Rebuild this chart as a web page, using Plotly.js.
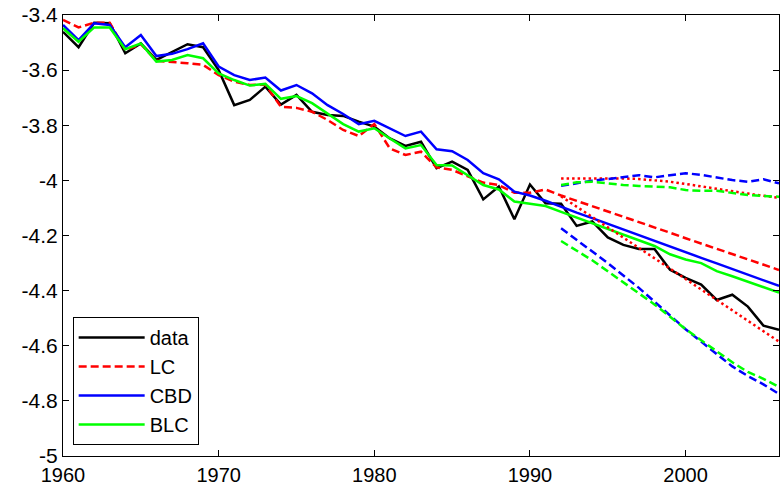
<!DOCTYPE html>
<html>
<head>
<meta charset="utf-8">
<script src="https://cdn.plot.ly/plotly-3.0.1.min.js"></script>
<style>html,body{margin:0;padding:0;background:#fff;}#chart{width:782px;height:486px;}</style>
</head>
<body>
<div id="chart"></div>
<script>
const years = [1960,1961,1962,1963,1964,1965,1966,1967,1968,1969,1970,1971,1972,1973,1974,1975,1976,1977,1978,1979,1980,1981,1982,1983,1984,1985,1986,1987,1988,1989,1990,1991,1992,1993,1994,1995,1996,1997,1998,1999,2000,2001,2002,2003,2004,2005,2006];
const dataVals = [-3.461,-3.517,-3.428,-3.430,-3.539,-3.503,-3.563,-3.535,-3.506,-3.517,-3.600,-3.727,-3.708,-3.660,-3.725,-3.690,-3.751,-3.763,-3.766,-3.787,-3.805,-3.848,-3.875,-3.860,-3.956,-3.932,-3.962,-4.069,-4.022,-4.141,-4.015,-4.083,-4.085,-4.165,-4.149,-4.207,-4.234,-4.249,-4.249,-4.324,-4.354,-4.378,-4.434,-4.415,-4.458,-4.527,-4.542];
const lcVals = [-3.418,-3.445,-3.428,-3.428,-3.527,-3.506,-3.566,-3.570,-3.575,-3.581,-3.618,-3.642,-3.654,-3.652,-3.733,-3.737,-3.751,-3.781,-3.817,-3.839,-3.796,-3.884,-3.908,-3.896,-3.953,-3.962,-3.984,-4.008,-4.017,-4.045,-4.045,-4.033,-4.055,-4.074,-4.094,-4.113,-4.133,-4.152,-4.171,-4.190,-4.210,-4.229,-4.248,-4.267,-4.287,-4.306,-4.325];
const cbdVals = [-3.436,-3.491,-3.430,-3.436,-3.517,-3.473,-3.549,-3.541,-3.524,-3.503,-3.587,-3.618,-3.636,-3.627,-3.674,-3.654,-3.684,-3.727,-3.759,-3.796,-3.784,-3.811,-3.839,-3.823,-3.887,-3.894,-3.926,-3.974,-3.996,-4.041,-4.055,-4.074,-4.096,-4.117,-4.137,-4.158,-4.178,-4.199,-4.219,-4.240,-4.260,-4.281,-4.301,-4.322,-4.342,-4.363,-4.383];
const blcVals = [-3.448,-3.497,-3.445,-3.445,-3.524,-3.503,-3.569,-3.563,-3.545,-3.557,-3.612,-3.636,-3.656,-3.650,-3.704,-3.694,-3.720,-3.759,-3.796,-3.823,-3.811,-3.848,-3.884,-3.872,-3.944,-3.946,-3.981,-4.017,-4.033,-4.077,-4.085,-4.093,-4.114,-4.135,-4.155,-4.176,-4.197,-4.218,-4.238,-4.268,-4.287,-4.300,-4.329,-4.348,-4.368,-4.388,-4.407];

const fcYears = [1992,1993,1994,1995,1996,1997,1998,1999,2000,2001,2002,2003,2004,2005,2006];
const lcUpper = [-3.993,-3.993,-3.992,-3.992,-3.993,-3.995,-3.999,-4.005,-4.013,-4.022,-4.032,-4.040,-4.048,-4.056,-4.063];
const lcLower = [-4.058,-4.095,-4.132,-4.170,-4.207,-4.245,-4.283,-4.320,-4.358,-4.396,-4.435,-4.473,-4.512,-4.549,-4.585];
const cbdUpper = [-4.020,-4.010,-4.001,-3.995,-3.987,-3.981,-3.989,-3.981,-3.974,-3.980,-3.989,-3.999,-4.005,-3.996,-4.011];
const cbdLower = [-4.174,-4.215,-4.258,-4.300,-4.345,-4.390,-4.440,-4.490,-4.540,-4.585,-4.630,-4.675,-4.710,-4.740,-4.775];
const blcUpper = [-4.017,-4.007,-4.005,-4.011,-4.017,-4.020,-4.023,-4.025,-4.035,-4.038,-4.038,-4.045,-4.053,-4.057,-4.059];
const blcLower = [-4.220,-4.255,-4.290,-4.330,-4.370,-4.410,-4.450,-4.495,-4.540,-4.580,-4.620,-4.660,-4.695,-4.720,-4.750];

const xTickVals = [1960,1970,1980,1990,2000];
const xTickLabels = ['1960','1970','1980','1990','2000'];
const yTickVals = [-5,-4.8,-4.6,-4.4,-4.2,-4,-3.8,-3.6,-3.4];
const yTickLabels = ['-5','-4.8','-4.6','-4.4','-4.2','-4','-3.8','-3.6','-3.4'];

const LW = 2.5;
const DASH = '8px,4px';
const DOT = '2.5px,3px';

const traces = [
  {x: years, y: dataVals, name: 'data', mode: 'lines', line: {color: '#000000', width: LW}},
  {x: years, y: lcVals, name: 'LC', mode: 'lines', line: {color: '#ff0000', width: LW, dash: DASH}},
  {x: years, y: cbdVals, name: 'CBD', mode: 'lines', line: {color: '#0000ff', width: LW}},
  {x: years, y: blcVals, name: 'BLC', mode: 'lines', line: {color: '#00ff00', width: LW}},
  {x: fcYears, y: lcUpper, mode: 'lines', showlegend: false, line: {color: '#ff0000', width: LW, dash: DOT}},
  {x: fcYears, y: lcLower, mode: 'lines', showlegend: false, line: {color: '#ff0000', width: LW, dash: DOT}},
  {x: fcYears, y: cbdUpper, mode: 'lines', showlegend: false, line: {color: '#0000ff', width: LW, dash: DASH}},
  {x: fcYears, y: cbdLower, mode: 'lines', showlegend: false, line: {color: '#0000ff', width: LW, dash: DASH}},
  {x: fcYears, y: blcUpper, mode: 'lines', showlegend: false, line: {color: '#00ff00', width: LW, dash: DASH}},
  {x: fcYears, y: blcLower, mode: 'lines', showlegend: false, line: {color: '#00ff00', width: LW, dash: DASH}}
];

const axisCommon = {
  showgrid: false, zeroline: false, showline: true, linecolor: '#000000', linewidth: 1,
  ticks: 'inside', ticklen: 6, tickwidth: 1, tickcolor: '#000000', mirror: 'ticks',
  tickfont: {family: 'Liberation Sans, Arial, sans-serif', size: 21, color: '#000000'}
};

const layout = {
  width: 782, height: 486,
  margin: {l: 63, r: 3, t: 15, b: 30},
  paper_bgcolor: '#ffffff', plot_bgcolor: '#ffffff',
  showlegend: true,
  xaxis: Object.assign({}, axisCommon, {range: [1960, 2006], tickmode: 'array', tickvals: xTickVals, ticktext: xTickLabels, ticklabelstandoff: 1,
    tickfont: {family: 'Liberation Sans, Arial, sans-serif', size: 20, color: '#000000'}}),
  yaxis: Object.assign({}, axisCommon, {range: [-5, -3.4], tickmode: 'array', tickvals: yTickVals, ticktext: yTickLabels}),
  legend: {
    x: 0.0135, y: 0.025, xanchor: 'left', yanchor: 'bottom',
    bgcolor: '#ffffff', bordercolor: '#000000', borderwidth: 1,
    font: {family: 'Liberation Sans, Arial, sans-serif', size: 20, color: '#000000'},
    itemwidth: 66, tracegroupgap: 0
  }
};

Plotly.newPlot('chart', traces, layout, {displayModeBar: false, staticPlot: true});
</script>
</body>
</html>
